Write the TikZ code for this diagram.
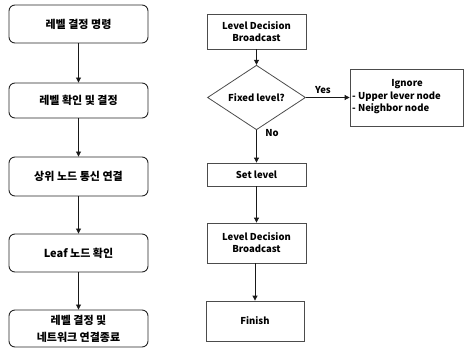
\documentclass[tikz,border=0pt]{standalone}
\usepackage{fontspec}
\setmainfont{Noto Sans CJK KR}
\usetikzlibrary{arrows.meta,shapes.geometric}
\begin{document}
\begin{tikzpicture}[x=1pt,y=-1pt,
  lbox/.style={draw=black!85,line width=0.9pt,rounded corners=6pt,minimum width=139pt,
    font=\bfseries\fontsize{11}{17}\selectfont,align=center,inner sep=0pt},
  rbox/.style={draw=black!70,line width=0.8pt,minimum width=99pt,
    font=\bfseries\fontsize{9.5}{12}\selectfont,align=center,inner sep=0pt},
  lbl/.style={font=\bfseries\fontsize{9.5}{12}\selectfont,inner sep=0pt},
  arr/.style={-{Triangle[length=5pt,width=5pt]},line width=0.8pt,draw=black!90}]
\useasboundingbox (0,0) rectangle (464,349);
% left column
\node[lbox,minimum height=38pt] (b1) at (78.5,24) {레벨 결정 명령};
\node[lbox,minimum height=35pt] (b2) at (78.5,100.5) {레벨 확인 및 결정};
\node[lbox,minimum height=39pt] (b3) at (78.5,176.5) {상위 노드 통신 연결};
\node[lbox,minimum height=38pt] (b4) at (78.5,253) {Leaf 노드 확인};
\node[lbox,minimum height=37pt] (b5) at (78.5,328.5) {레벨 결정 및\\네트워크 연결종료};
\draw[arr] (b1) -- (b2);
\draw[arr] (b2) -- (b3);
\draw[arr] (b3) -- (b4);
\draw[arr] (b4) -- (b5);
% right column
\node[rbox,minimum height=35pt] (r1) at (256.5,31.5) {Level Decision\\Broadcast};
\node[draw=black!70,line width=0.8pt,shape=diamond,minimum width=98pt,minimum height=39pt,inner sep=0pt,
  font=\bfseries\fontsize{9.5}{12}\selectfont] (dia) at (256.5,97.5) {Fixed level?};
\node[rbox,minimum width=113pt,minimum height=57pt] (ign) at (406.5,97.5) {};
\node[lbl] (ignt) at (407,84) {Ignore};
\node[lbl,anchor=west] (ign1) at (352,97) {- Upper lever node};
\node[lbl,anchor=west] (ign2) at (352,109) {- Neighbor node};
\node[rbox,minimum height=23pt] (set) at (256.5,174.5) {Set level};
\node[rbox,minimum height=40pt] (r2) at (256.5,243) {Level Decision\\Broadcast};
\node[rbox,minimum width=98pt,minimum height=40pt] (fin) at (255,321) {Finish};
\draw[arr] (r1) -- (dia);
\draw[arr] (dia) -- (set);
\draw[arr] (set) -- (r2);
\draw[arr] (r2.south -| fin) -- (fin);
\draw[arr] (dia.east) -- (ign.west |- dia.east);
\node[lbl] (yes) at (323,90) {Yes};
\node[lbl] (no) at (272,133) {No};
\end{tikzpicture}
\end{document}
